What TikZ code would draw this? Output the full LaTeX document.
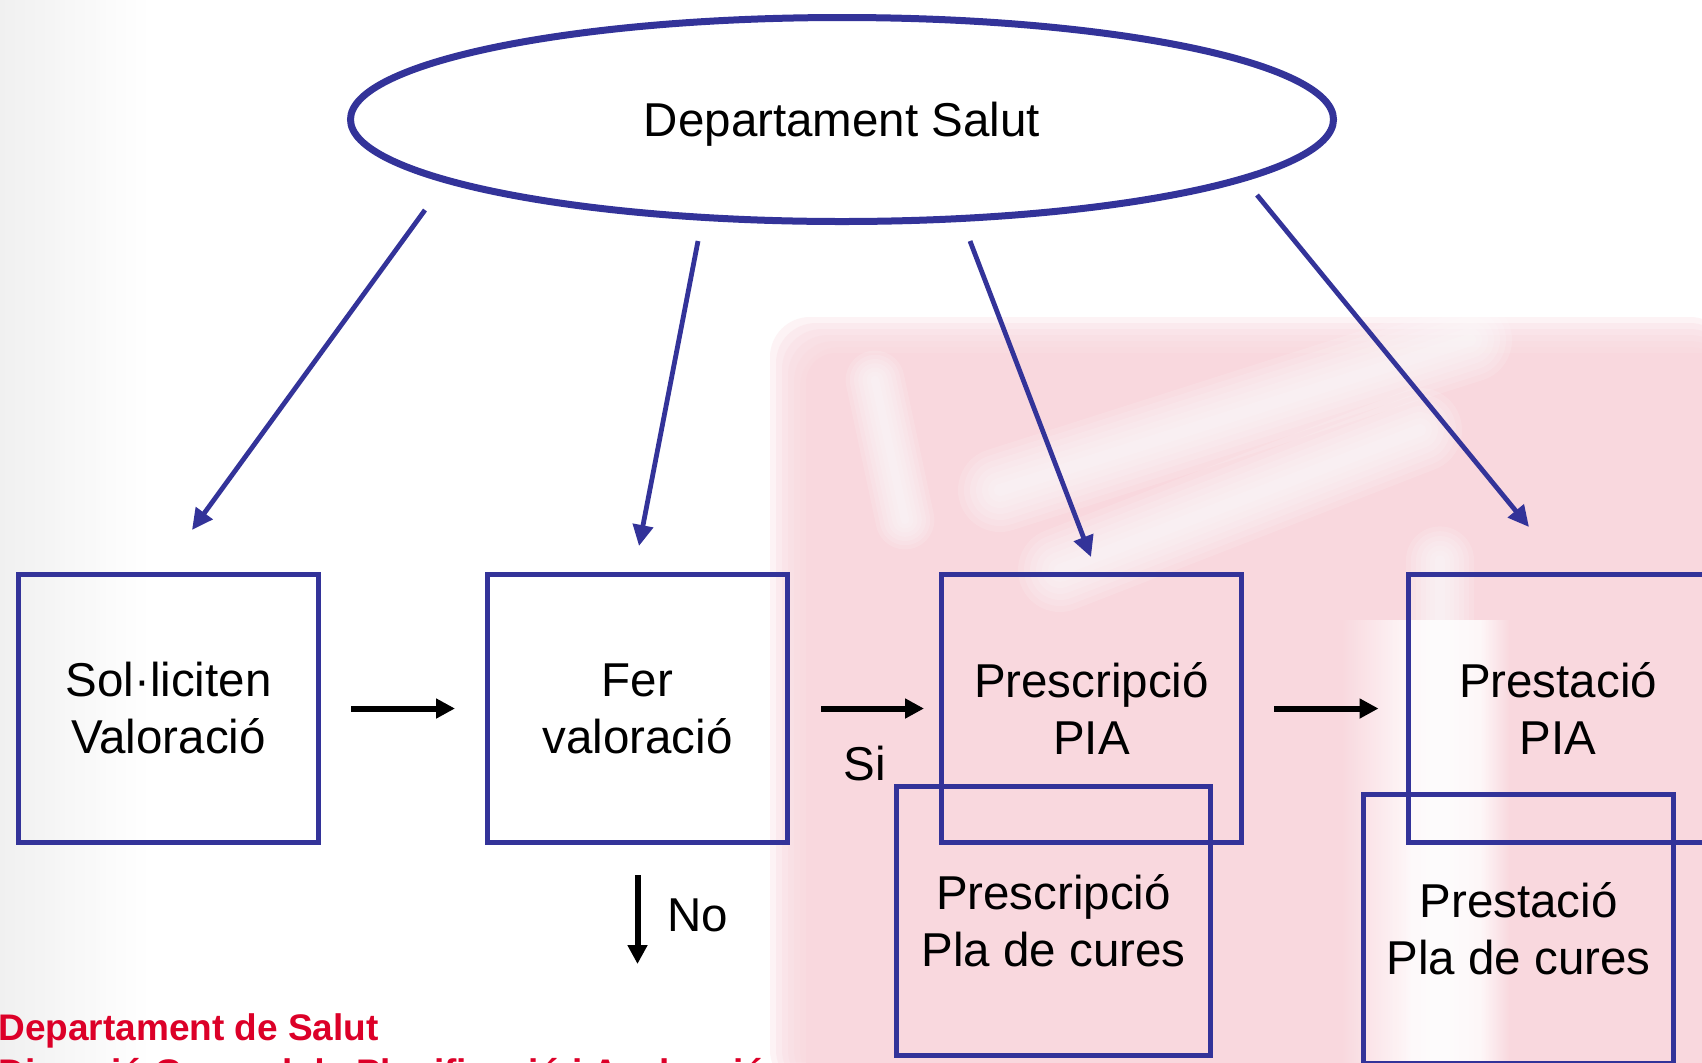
\documentclass[tikz,border=0pt]{standalone}
\usepackage{fontspec}
\setmainfont{Liberation Sans}
\usetikzlibrary{positioning, shapes.geometric, arrows.meta}

\definecolor{boxblue}{RGB}{51,51,153}
\definecolor{salutred}{RGB}{220,0,40}
\definecolor{wmpink}{RGB}{249,216,222}
\definecolor{wmgray}{RGB}{240,240,240}

\begin{document}
\begin{tikzpicture}[x=0.5pt, y=-0.5pt,
    txt/.style={font=\fontsize{23.75}{28.5}\selectfont, align=center, inner sep=0pt},
    caixa/.style={txt, draw=boxblue, line width=2.5pt, minimum width=150pt, minimum height=134pt},
    blau/.style={draw=boxblue, line width=2.4pt, -{Triangle[length=10.5pt, width=10pt]}},
    negre/.style={draw=black, line width=3pt, -{Triangle[length=9.5pt, width=9.5pt]}},
    peu/.style={font=\fontsize{18.5}{22.5}\selectfont\bfseries, text=salutred, inner sep=0pt, anchor=base west},
    ratlla/.style={white, line cap=round, opacity=.14}]
        \useasboundingbox (0,0) rectangle (1702,1062);
        % faded background logo
        \fill[white] (0,0) rectangle (1702,1062);
        \shade[left color=wmgray, right color=white] (0,0) rectangle (150,1062);
        \foreach \d in {0,6,...,30}
            \fill[wmpink, opacity=.3, rounded corners=20] (770+\d,317+\d) rectangle (1730,1090);
        \fill[wmpink, rounded corners=15] (806,353) rectangle (1730,1090);
        % white rays of the logo
        \foreach \w in {6,12,...,42} {
            \draw[ratlla, line width=\w pt] (1000,490) -- (1470,340);
            \draw[ratlla, line width=\w pt] (1060,570) -- (1420,430);
            \draw[ratlla, line width=.7*\w pt] (875,380) -- (905,520);
            \draw[ratlla, line width=.8*\w pt] (1440,560) -- (1440,1062);
        }
        \fill[white, opacity=.8] (1410,620) rectangle (1480,1062);
        \shade[left color=white, right color=wmpink, opacity=.8] (1480,620) rectangle (1510,1062);
        \shade[left color=wmpink, right color=white, opacity=.8] (1340,620) rectangle (1410,1062);

        \node[txt, text depth=0pt, ellipse, draw=boxblue, line width=3.5pt, minimum width=491.5pt, minimum height=102pt] (salut) at (842,119.5) {Departament Salut};

        \node[caixa] (sol) at (168.5,708.5) {Sol·liciten\\Valoració};
        \node[caixa] (fer) at (637.5,708.5) {Fer\\valoració};
        \node[caixa] (presc) at (1091.5,708.5) {Prescripció\\PIA};
        \node[caixa] (prest) at (1558,708.5) {Prestació\\PIA};
        \node[caixa, minimum width=157pt, minimum height=134.5pt] (prescpla) at (1053.5,921) {Prescripció\\Pla de cures};
        \node[caixa, minimum width=155pt, minimum height=134.5pt] (prestpla) at (1518.5,928.5) {Prestació\\Pla de cures};

        % blue arrows from the ellipse
        \coordinate (a1) at (425,210);
        \coordinate (b1) at (192,530);
        \coordinate (a2) at (698,241);
        \coordinate (b2) at (639,546);
        \coordinate (a3) at (970,241);
        \coordinate (b3) at (1091,557);
        \coordinate (a4) at (1257,195);
        \coordinate (b4) at (1529,527);
        \draw[blau] (a1) -- (b1);
        \draw[blau] (a2) -- (b2);
        \draw[blau] (a3) -- (b3);
        \draw[blau] (a4) -- (b4);

        \draw[negre, shorten <=15pt, shorten >=15pt] (sol) -- (fer);
        \draw[negre, shorten <=15.5pt, shorten >=7.5pt] (fer) -- (presc);
        \draw[negre, shorten <=15pt, shorten >=13.5pt] (presc) -- (prest);
        \coordinate (nofi) at (637.5,964);
        \draw[negre, shorten <=15pt] (fer) -- (nofi);

        \node[txt] (si) at (865,764) {Si};
        \node[txt] (no) at (698,915) {No};

        \node[peu] (peu1) at (-2,1040) {Departament de Salut};
        \node[peu] (peu2) at ([yshift=-22.5pt]peu1.base west) {Direcció General de Planificació i Avaluació};
    \end{tikzpicture}
\end{document}
